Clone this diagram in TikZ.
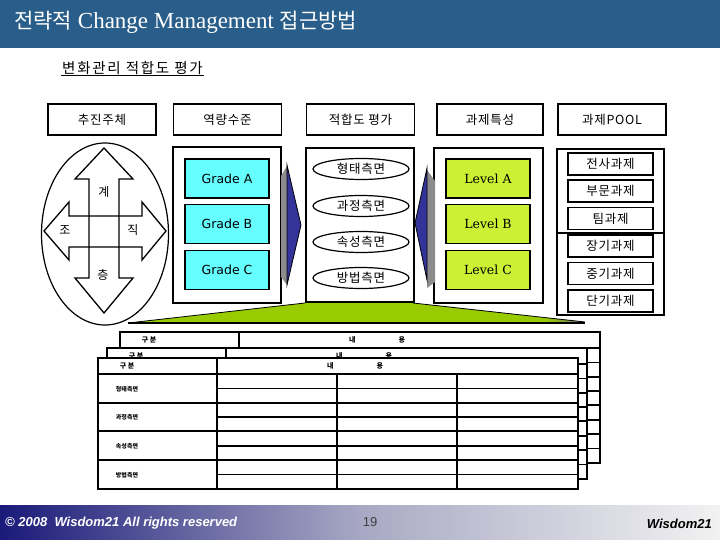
\documentclass[tikz,border=0pt]{standalone}
\usepackage{fontspec}
\setmainfont{Liberation Serif}
\newfontfamily\kr[LetterSpace=6]{Noto Sans CJK KR}
\newfontfamily\krwide[LetterSpace=12]{Noto Sans CJK KR}
\newfontfamily\krtight{Noto Sans CJK KR}
\newfontfamily\gradefont{DejaVu Sans}
\newfontfamily\levelfont{DejaVu Serif}
\newfontfamily\footfont{Liberation Sans}
\usetikzlibrary{calc,shapes.geometric}
\definecolor{wz01}{HTML}{2A5E8A}
\definecolor{wz02}{HTML}{66FFFF}
\definecolor{wz03}{HTML}{CCF033}
\definecolor{wz04}{HTML}{99CC00}
\definecolor{wz05}{HTML}{333399}
\definecolor{wz06}{HTML}{8C8C8C}
\definecolor{wz07}{HTML}{1A1A7A}
\definecolor{wz08}{HTML}{A8A8C4}
\definecolor{wz09}{HTML}{F2F2F2}
\tikzset{
  headbox/.style={rectangle,draw,line width=1.6pt,minimum width=108pt,minimum height=31pt,font=\kr\fontsize{12.5}{14}\selectfont},
  panel/.style={rectangle,draw,line width=1.6pt,fill=white,inner sep=0pt},
  gradebox/.style={rectangle,draw,line width=1.6pt,fill=wz02,minimum width=84pt,minimum height=39pt,font=\gradefont\fontsize{12.5}{14}\selectfont},
  levelbox/.style={gradebox,fill=wz03,font=\levelfont\fontsize{12.5}{14}\selectfont},
  aspect/.style={ellipse,draw,line width=1.2pt,fill=white,minimum width=96pt,minimum height=21pt,inner sep=0pt,font=\kr\fontsize{12.5}{14}\selectfont},
  poolbox/.style={rectangle,draw,line width=1.6pt,minimum width=85pt,minimum height=22pt,inner sep=0pt,font=\kr\fontsize{12.5}{14}\selectfont},
  crosslbl/.style={inner sep=0pt,font=\krtight\fontsize{12}{14}\selectfont},
  sheet/.style={line width=1.6pt},
  sheettext/.style={inner sep=0pt,font=\krtight\bfseries\fontsize{7}{8}\selectfont},
}
% one evaluation sheet: #1,#2 = top left corner, #3 = name
\newcommand{\evalsheet}[3]{%
  \begin{scope}[shift={(#1,#2)}]
    \draw[sheet,fill=white] (0,0) rectangle (480,131);
    \draw[sheet] (0,16) -- (480,16);
    \draw[sheet] (119,0) -- (119,131);
    \foreach \yy in {45,73,102} {\draw[sheet] (0,\yy) -- (480,\yy);}
    \foreach \yy in {30.5,59,88,116.5} {\draw[sheet] (119,\yy) -- (480,\yy);}
    \foreach \xx in {239,359} {\draw[sheet] (\xx,16) -- (\xx,131);}
    \node[sheettext] (#3-head) at (29,8) {구 분};
    \node[sheettext] (#3-body) at (257,8) {내\hspace{43pt}용};
  \end{scope}}
\begin{document}
\begin{tikzpicture}[x=1pt,y=-1pt]
  \useasboundingbox (0,0) rectangle (720,540);
  % title
  \fill[wz01] (0,0) rectangle (720,48);
  \node[anchor=west,inner sep=0pt,text=white,font=\fontsize{23}{26}\selectfont] (title) at (14,22)
    {{\krtight\fontsize{21}{26}\selectfont 전략적} Change Management {\krtight\fontsize{21}{26}\selectfont 접근방법}};
  \node[anchor=west,inner sep=1pt,font=\krwide\fontsize{14.5}{16}\selectfont] (subtitle) at (61,68) {변화관리 적합도 평가};
  \draw[line width=1.3pt] (subtitle.south west) -- (subtitle.south east);

  % column heads
  \node[headbox] (actor) at (102,119.5) {추진주체};
  \node[headbox] (ability) at (227.5,119.5) {역량수준};
  \node[headbox] (fitness) at (360.5,119.5) {적합도 평가};
  \node[headbox,minimum width=106pt] (feature) at (490,119.5) {과제특성};
  \node[headbox] (pool) at (612,119.5) {과제POOL};

  % green base
  \fill[wz04] (128,323) -- (305,303) -- (413,303) -- (585,322) -- cycle;
  \shade[left color=wz04,right color=black!55] (545,317.5) -- (585,322) -- (545,323) -- cycle;
  \draw[line width=0.8pt] (128,323) -- (305,303) (413,303) -- (585,322);
  \draw[line width=2.2pt] (128,323) -- (585,323);

  % actor ellipse with cross
  \node[ellipse,draw,line width=1.2pt,fill=white,minimum width=127pt,minimum height=182pt] (actorpanel) at (105,234) {};
  \draw[line width=1.3pt] (104,148) -- (133,179) -- (119,179) -- (119,278) -- (133,278) -- (104,313)
    -- (75,278) -- (89,278) -- (89,179) -- (75,179) -- cycle;
  \draw[line width=1.3pt] (44,231) -- (69,202) -- (69,216) -- (142,216) -- (142,202) -- (166,231)
    -- (142,260) -- (142,247) -- (69,247) -- (69,260) -- cycle;
  \node[crosslbl] (gye) at (104,192) {계};
  \node[crosslbl] (jo) at (65,230) {조};
  \node[crosslbl] (jik) at (133,230) {직};
  \node[crosslbl] (cheung) at (103,275) {층};

  % ability levels
  \node[panel,minimum width=108pt,minimum height=156pt] (abilitypanel) at (227,225) {};
  \node[gradebox] (gradeA) at (227,178.5) {Grade A};
  \node[gradebox] (gradeB) at (227,224) {Grade B};
  \node[gradebox] (gradeC) at (227,270) {Grade C};

  % fitness aspects
  \node[panel,minimum width=108pt,minimum height=154pt] (fitnesspanel) at (360,225) {};
  \node[aspect] (form) at (361,169) {형태측면};
  \node[aspect] (process) at (361,206) {과정측면};
  \node[aspect] (attribute) at (361,242) {속성측면};
  \node[aspect] (method) at (361,278) {방법측면};

  % task features
  \node[panel,minimum width=109pt,minimum height=155pt] (featurepanel) at (488.5,225.5) {};
  \node[levelbox] (levelA) at (488,178.5) {Level A};
  \node[levelbox] (levelB) at (488,224) {Level B};
  \node[levelbox] (levelC) at (488,270) {Level C};

  % task pool
  \node[panel,minimum width=107pt,minimum height=166pt] (poolpanel) at (610.5,232) {};
  \draw[line width=2.5pt] (poolpanel.west |- 0,233) -- (poolpanel.east |- 0,233);
  \node[poolbox] (company) at (610.5,164) {전사과제};
  \node[poolbox] (division) at (610.5,191) {부문과제};
  \node[poolbox] (team) at (610.5,218.5) {팀과제};
  \node[poolbox] (longterm) at (610.5,246) {장기과제};
  \node[poolbox] (midterm) at (610.5,273.5) {중기과제};
  \node[poolbox] (shortterm) at (610.5,301) {단기과제};

  % 3d pointers
  \fill[wz06] (281,176) -- (287,166) -- (287,285) -- (281,277) -- cycle;
  \draw[fill=wz05,line width=0.8pt] (287,165) -- (301,225) -- (287,285) -- cycle;
  \fill[wz06] (427,170) -- (435,181) -- (435,282) -- (427,288) -- cycle;
  \draw[fill=wz05,line width=0.8pt] (427,168) -- (415,223) -- (427,280) -- cycle;

  % evaluation sheets
  \evalsheet{120}{332}{sheetone}
  \evalsheet{107}{348}{sheettwo}
  \evalsheet{98}{358}{sheetfront}
  \node[sheettext,font=\krtight\bfseries\fontsize{6}{7}\selectfont] (rowform) at (127,389) {형태측면};
  \node[sheettext,font=\krtight\bfseries\fontsize{6}{7}\selectfont] (rowprocess) at (127,417.5) {과정측면};
  \node[sheettext,font=\krtight\bfseries\fontsize{6}{7}\selectfont] (rowattribute) at (127,446) {속성측면};
  \node[sheettext,font=\krtight\bfseries\fontsize{6}{7}\selectfont] (rowmethod) at (127,475) {방법측면};

  % footer
  \shade[left color=wz07,right color=wz09,middle color=wz08] (0,505) rectangle (720,540);
  \node[anchor=west,inner sep=0pt,text=white,font=\footfont\bfseries\itshape\fontsize{13}{15}\selectfont] (copyright) at (5,523) {© 2008\ \ Wisdom21 All rights reserved};
  \node[inner sep=0pt,text=black!75,font=\footfont\fontsize{13}{15}\selectfont] (pageno) at (370,522) {19};
  \node[anchor=east,inner sep=0pt,font=\footfont\bfseries\itshape\fontsize{13}{15}\selectfont] (brand) at (712,524) {Wisdom21};
\end{tikzpicture}
\end{document}
